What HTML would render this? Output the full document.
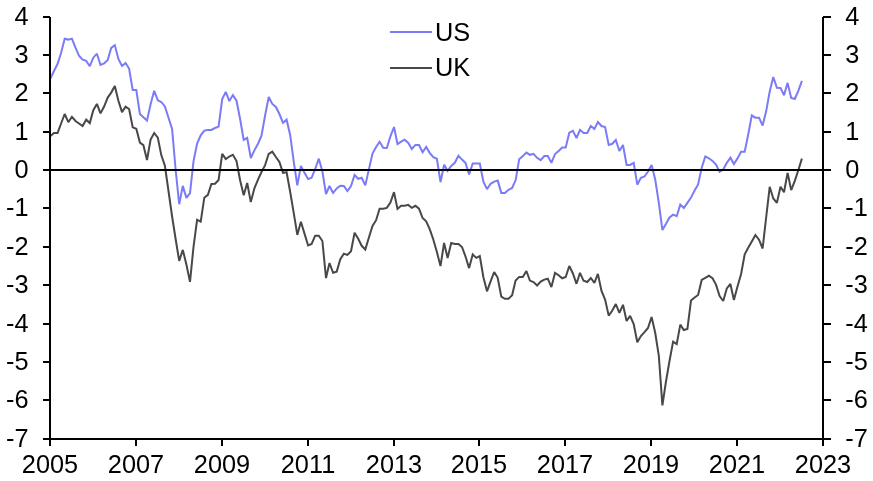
<!DOCTYPE html><html><head><meta charset="utf-8"><title>US UK chart</title><style>html,body{margin:0;padding:0;background:#fff}svg{display:block}text{font-family:"Liberation Sans",Arial,sans-serif;font-size:25.33px;fill:#000}</style></head><body>
<svg width="873" height="481" viewBox="0 0 873 481">
<rect width="873" height="481" fill="#fff"/>
<polyline fill="none" stroke="#7b7bf7" stroke-width="2" stroke-linejoin="miter" stroke-miterlimit="2" stroke-linecap="butt" points="50.4,78.5 54.0,71.0 57.6,63.8 61.1,52.7 64.7,38.8 68.3,39.6 71.9,38.6 75.5,47.6 79.0,55.8 82.6,59.7 86.2,60.9 89.8,66.2 93.3,57.7 96.9,53.7 100.5,65.0 104.1,63.4 107.7,60.0 111.2,47.9 114.8,45.1 118.4,59.0 122.0,66.0 125.6,62.9 129.1,68.6 132.7,90.0 136.3,90.0 139.9,114.0 143.4,117.2 147.0,120.5 150.6,104.3 154.2,90.8 157.8,100.3 161.3,102.0 164.9,106.5 168.5,117.8 172.1,129.0 175.7,170.5 179.2,204.2 182.8,185.9 186.4,197.9 190.0,193.0 193.5,161.3 197.1,143.5 200.7,135.3 204.3,130.6 207.9,129.9 211.4,129.9 215.0,128.0 218.6,126.6 222.2,99.0 225.8,91.9 229.3,101.1 232.9,95.1 236.5,100.7 240.1,119.0 243.7,139.9 247.2,137.9 250.8,158.0 254.4,150.4 258.0,143.7 261.5,135.6 265.1,115.5 268.7,97.0 272.3,103.9 275.9,107.0 279.4,114.0 283.0,122.8 286.6,119.7 290.2,135.2 293.8,162.0 297.3,185.4 300.9,165.9 304.5,172.8 308.1,179.1 311.6,177.8 315.2,169.0 318.8,158.7 322.4,171.5 326.0,194.0 329.5,186.0 333.1,193.0 336.7,188.5 340.3,185.8 343.9,186.0 347.4,191.0 351.0,186.0 354.6,175.0 358.2,178.8 361.7,177.8 365.3,185.4 368.9,169.4 372.5,153.6 376.1,147.0 379.6,141.8 383.2,147.8 386.8,148.0 390.4,136.4 394.0,127.0 397.5,144.0 401.1,141.7 404.7,139.7 408.3,143.0 411.8,149.0 415.4,144.9 419.0,145.0 422.6,152.2 426.2,146.9 429.7,152.8 433.3,157.1 436.9,158.8 440.5,182.2 444.1,164.7 447.6,170.8 451.2,165.9 454.8,162.8 458.4,155.7 462.0,159.6 465.5,162.9 469.1,174.5 472.7,163.5 476.3,163.6 479.8,163.6 483.4,181.6 487.0,189.1 490.6,183.8 494.2,181.6 497.7,180.6 501.3,192.9 504.9,192.9 508.5,189.8 512.1,187.9 515.6,180.3 519.2,159.2 522.8,156.1 526.4,152.6 529.9,154.8 533.5,153.8 537.1,157.8 540.7,160.1 544.3,156.0 547.8,156.0 551.4,162.9 555.0,154.1 558.6,151.0 562.2,147.5 565.7,147.5 569.3,132.7 572.9,130.8 576.5,138.0 580.0,129.9 583.6,132.9 587.2,132.9 590.8,126.0 594.4,128.9 597.9,122.0 601.5,126.0 605.1,127.0 608.7,145.0 612.3,143.8 615.8,140.0 619.4,151.0 623.0,145.0 626.6,164.9 630.1,164.9 633.7,162.8 637.3,184.7 640.9,177.8 644.5,176.5 648.0,171.5 651.6,164.9 655.2,179.5 658.8,202.7 662.4,230.1 665.9,224.1 669.5,217.5 673.1,214.7 676.7,216.2 680.3,204.6 683.8,208.0 687.4,202.9 691.0,197.6 694.6,190.6 698.1,184.5 701.7,167.7 705.3,156.4 708.9,158.3 712.5,160.9 716.0,164.6 719.6,171.9 723.2,169.5 726.8,162.8 730.4,157.7 733.9,164.1 737.5,158.4 741.1,151.8 744.7,151.8 748.2,134.5 751.8,115.4 755.4,117.7 759.0,117.7 762.6,125.5 766.1,111.6 769.7,91.5 773.3,77.0 776.9,87.7 780.5,87.9 784.0,95.2 787.6,82.9 791.2,98.0 794.8,99.0 798.3,90.8 801.9,80.8"/>
<polyline fill="none" stroke="#484848" stroke-width="2" stroke-linejoin="miter" stroke-miterlimit="2" stroke-linecap="butt" points="50.4,136.1 54.0,132.9 57.6,132.9 61.1,123.5 64.7,114.0 68.3,122.2 71.9,116.8 75.5,121.0 79.0,123.5 82.6,126.0 86.2,119.7 89.8,123.1 93.3,110.2 96.9,103.9 100.5,113.4 104.1,106.5 107.7,97.6 111.2,92.6 114.8,86.0 118.4,100.8 122.0,112.1 125.6,106.7 129.1,109.0 132.7,127.3 136.3,128.8 139.9,142.6 143.4,145.2 147.0,160.0 150.6,139.5 154.2,133.0 157.8,137.6 161.3,155.1 164.9,165.8 168.5,191.0 172.1,216.5 175.7,239.5 179.2,260.9 182.8,249.9 186.4,264.5 190.0,281.9 193.5,247.0 197.1,219.7 200.7,221.6 204.3,197.7 207.9,194.9 211.4,184.0 215.0,183.8 218.6,180.0 222.2,153.9 225.8,159.0 229.3,156.5 232.9,154.7 236.5,161.1 240.1,180.2 243.7,195.2 247.2,183.0 250.8,202.1 254.4,188.3 258.0,179.6 261.5,172.0 265.1,165.1 268.7,153.8 272.3,151.6 275.9,157.0 279.4,162.0 283.0,172.8 286.6,172.2 290.2,192.0 293.8,213.4 297.3,234.9 300.9,221.8 304.5,233.6 308.1,245.5 311.6,244.0 315.2,235.7 318.8,235.7 322.4,241.0 326.0,278.1 329.5,263.0 333.1,272.8 336.7,271.6 340.3,259.2 343.9,253.7 347.4,254.9 351.0,251.2 354.6,232.8 358.2,238.7 361.7,245.8 365.3,249.5 368.9,237.5 372.5,226.0 376.1,220.2 379.6,208.8 383.2,208.7 386.8,207.9 390.4,202.6 394.0,192.2 397.5,208.9 401.1,205.8 404.7,205.8 408.3,204.9 411.8,207.9 415.4,205.8 419.0,208.7 422.6,218.0 426.2,221.3 429.7,229.1 433.3,239.5 436.9,252.1 440.5,266.0 444.1,242.9 447.6,258.0 451.2,242.9 454.8,243.9 458.4,243.9 462.0,247.0 465.5,256.5 469.1,268.1 472.7,254.5 476.3,257.9 479.8,256.0 483.4,277.2 487.0,291.3 490.6,281.3 494.2,272.0 497.7,277.8 501.3,296.6 504.9,298.8 508.5,298.8 512.1,295.3 515.6,280.6 519.2,276.9 522.8,276.9 526.4,271.0 529.9,280.6 533.5,282.0 537.1,285.5 540.7,281.5 544.3,279.6 547.8,278.7 551.4,287.1 555.0,272.9 558.6,275.2 562.2,278.3 565.7,277.0 569.3,266.0 572.9,273.5 576.5,283.8 580.0,272.8 583.6,280.8 587.2,282.0 590.8,278.0 594.4,282.9 597.9,273.9 601.5,290.9 605.1,299.5 608.7,315.6 612.3,310.5 615.8,304.0 619.4,312.9 623.0,304.8 626.6,321.0 630.1,315.9 633.7,324.0 637.3,342.2 640.9,336.0 644.5,332.2 648.0,328.0 651.6,317.0 655.2,332.8 658.8,355.5 662.4,405.4 665.9,382.0 669.5,361.0 673.1,341.6 676.7,344.1 680.3,324.6 683.8,330.0 687.4,329.0 691.0,300.6 694.6,297.5 698.1,295.0 701.7,280.0 705.3,277.9 708.9,275.8 712.5,278.3 716.0,284.6 719.6,296.0 723.2,301.0 726.8,288.4 730.4,284.0 733.9,300.1 737.5,286.5 741.1,273.9 744.7,254.3 748.2,247.8 751.8,241.5 755.4,235.0 759.0,239.7 762.6,248.5 766.1,218.0 769.7,186.8 773.3,198.5 776.9,202.9 780.5,186.8 784.0,192.2 787.6,172.9 791.2,190.1 794.8,180.9 798.3,170.2 801.9,158.6"/>
<g stroke="#000" stroke-width="2" fill="none">
<line x1="50" y1="17" x2="50" y2="440"/>
<line x1="823" y1="17" x2="823" y2="440"/>
<line x1="43" y1="439" x2="831" y2="439"/>
<line x1="43" y1="170" x2="831" y2="170"/>
<line x1="43" y1="400" x2="50" y2="400"/>
<line x1="823" y1="400" x2="831" y2="400"/>
<line x1="43" y1="362" x2="50" y2="362"/>
<line x1="823" y1="362" x2="831" y2="362"/>
<line x1="43" y1="324" x2="50" y2="324"/>
<line x1="823" y1="324" x2="831" y2="324"/>
<line x1="43" y1="285" x2="50" y2="285"/>
<line x1="823" y1="285" x2="831" y2="285"/>
<line x1="43" y1="247" x2="50" y2="247"/>
<line x1="823" y1="247" x2="831" y2="247"/>
<line x1="43" y1="208" x2="50" y2="208"/>
<line x1="823" y1="208" x2="831" y2="208"/>
<line x1="43" y1="132" x2="50" y2="132"/>
<line x1="823" y1="132" x2="831" y2="132"/>
<line x1="43" y1="93" x2="50" y2="93"/>
<line x1="823" y1="93" x2="831" y2="93"/>
<line x1="43" y1="55" x2="50" y2="55"/>
<line x1="823" y1="55" x2="831" y2="55"/>
<line x1="43" y1="17" x2="50" y2="17"/>
<line x1="823" y1="17" x2="831" y2="17"/>
<line x1="50" y1="439" x2="50" y2="446"/>
<line x1="136" y1="439" x2="136" y2="446"/>
<line x1="222" y1="439" x2="222" y2="446"/>
<line x1="308" y1="439" x2="308" y2="446"/>
<line x1="394" y1="439" x2="394" y2="446"/>
<line x1="479" y1="439" x2="479" y2="446"/>
<line x1="565" y1="439" x2="565" y2="446"/>
<line x1="651" y1="439" x2="651" y2="446"/>
<line x1="737" y1="439" x2="737" y2="446"/>
<line x1="823" y1="439" x2="823" y2="446"/>
</g>
<text x="28.5" y="447.0" text-anchor="end">-7</text>
<text x="845.3" y="447.0">-7</text>
<text x="28.5" y="408.0" text-anchor="end">-6</text>
<text x="845.3" y="408.0">-6</text>
<text x="28.5" y="370.0" text-anchor="end">-5</text>
<text x="845.3" y="370.0">-5</text>
<text x="28.5" y="332.0" text-anchor="end">-4</text>
<text x="845.3" y="332.0">-4</text>
<text x="28.5" y="293.0" text-anchor="end">-3</text>
<text x="845.3" y="293.0">-3</text>
<text x="28.5" y="255.0" text-anchor="end">-2</text>
<text x="845.3" y="255.0">-2</text>
<text x="28.5" y="216.0" text-anchor="end">-1</text>
<text x="845.3" y="216.0">-1</text>
<text x="28.5" y="178.0" text-anchor="end">0</text>
<text x="845.3" y="178.0">0</text>
<text x="28.5" y="140.0" text-anchor="end">1</text>
<text x="845.3" y="140.0">1</text>
<text x="28.5" y="101.0" text-anchor="end">2</text>
<text x="845.3" y="101.0">2</text>
<text x="28.5" y="63.0" text-anchor="end">3</text>
<text x="845.3" y="63.0">3</text>
<text x="28.5" y="25.0" text-anchor="end">4</text>
<text x="845.3" y="25.0">4</text>
<text x="50" y="473.2" text-anchor="middle">2005</text>
<text x="136" y="473.2" text-anchor="middle">2007</text>
<text x="222" y="473.2" text-anchor="middle">2009</text>
<text x="308" y="473.2" text-anchor="middle">2011</text>
<text x="394" y="473.2" text-anchor="middle">2013</text>
<text x="479" y="473.2" text-anchor="middle">2015</text>
<text x="565" y="473.2" text-anchor="middle">2017</text>
<text x="651" y="473.2" text-anchor="middle">2019</text>
<text x="737" y="473.2" text-anchor="middle">2021</text>
<text x="823" y="473.2" text-anchor="middle">2023</text>
<line x1="390" y1="32" x2="432" y2="32" stroke="#7b7bf7" stroke-width="2"/>
<line x1="390" y1="68" x2="432" y2="68" stroke="#484848" stroke-width="2"/>
<text x="435" y="40.5">US</text>
<text x="435" y="75.5">UK</text>
</svg></body></html>
